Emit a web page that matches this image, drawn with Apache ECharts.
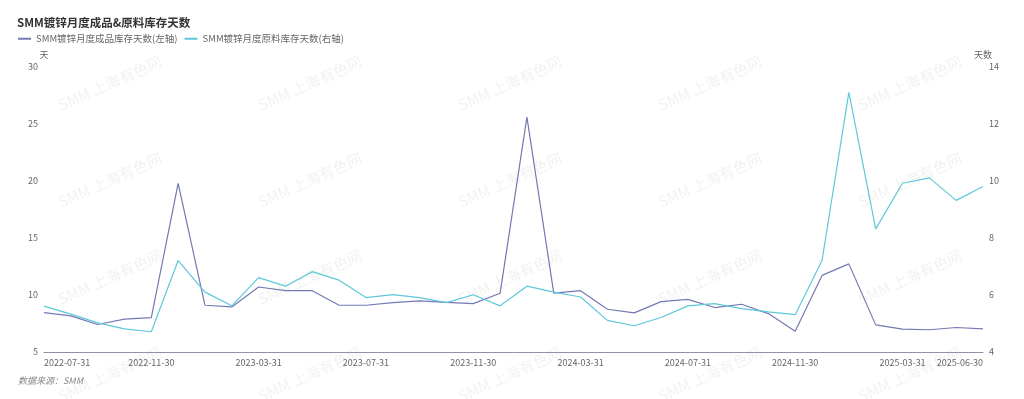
<!DOCTYPE html>
<html>
<head>
<meta charset="utf-8">
<script src="https://cdn.jsdelivr.net/npm/echarts@6/dist/echarts.min.js"></script>
<style>
  html, body { margin: 0; padding: 0; background: #fff; }
  #main { width: 1024px; height: 399px; }
</style>
</head>
<body>
<div id="main"></div>
<script>
var months = [
  '2022-07-31','2022-08-31','2022-09-30','2022-10-31','2022-11-30','2022-12-31',
  '2023-01-31','2023-02-28','2023-03-31','2023-04-30','2023-05-31','2023-06-30',
  '2023-07-31','2023-08-31','2023-09-30','2023-10-31','2023-11-30','2023-12-31',
  '2024-01-31','2024-02-29','2024-03-31','2024-04-30','2024-05-31','2024-06-30',
  '2024-07-31','2024-08-31','2024-09-30','2024-10-31','2024-11-30','2024-12-31',
  '2025-01-31','2025-02-28','2025-03-31','2025-04-30','2025-05-31','2025-06-30'
];
// 成品库存天数 (左轴)
var finishedDays = [
  8.46, 8.17, 7.41, 7.88, 8.02, 19.8, 9.1, 8.95, 10.7, 10.38, 10.38, 9.1,
  9.1, 9.33, 9.48, 9.36, 9.24, 10.15, 25.6, 10.17, 10.38, 8.75, 8.43, 9.42,
  9.62, 8.9, 9.19, 8.37, 6.83, 11.72, 12.73, 7.38, 7.0, 6.95, 7.15, 7.03
];
// 原料库存天数 (右轴)
var rawDays = [
  5.61, 5.33, 5.02, 4.81, 4.71, 7.21, 6.10, 5.62, 6.61, 6.31, 6.82, 6.52,
  5.91, 6.01, 5.91, 5.73, 6.01, 5.62, 6.31, 6.10, 5.93, 5.11, 4.92, 5.21,
  5.62, 5.70, 5.52, 5.41, 5.31, 7.21, 13.11, 8.32, 9.92, 10.11, 9.32, 9.81
];
var seriesNames = ['SMM镀锌月度成品库存天数(左轴)', 'SMM镀锌月度原料库存天数(右轴)'];

var font = '"Noto Sans CJK SC", "Noto Sans", sans-serif';

// watermark
var marks = [];
for (var r = 0; r < 4; r++) {
  for (var c = 0; c < 5; c++) {
    marks.push({
      type: 'text',
      x: 110 + c * 200,
      y: 83 + r * 97,
      rotation: Math.PI / 180 * 24,
      style: {
        text: 'SMM 上海有色网',
        fill: 'rgba(0,0,0,0.06)',
        font: '15px ' + font,
        align: 'center',
        verticalAlign: 'middle'
      },
      silent: true,
      z: -1
    });
  }
}
marks.push({
  type: 'text', left: 18, top: 376,
  style: { text: '数据来源：SMM', fill: '#888', font: 'italic 9px ' + font }
});

var chart = echarts.init(document.getElementById('main'));
chart.setOption({
  animation: false,
  textStyle: { fontFamily: font },
  color: ['#7479b4', '#5ec8da'],
  title: {
    text: 'SMM镀锌月度成品&原料库存天数',
    left: 12, top: 12,
    textStyle: { fontSize: 11.5, fontWeight: 'bold', color: '#333' }
  },
  legend: {
    left: 13, top: 29,
    icon: 'rect',
    itemWidth: 13, itemHeight: 2, itemGap: 7,
    textStyle: { fontSize: 9.5, color: '#666' },
    data: seriesNames
  },
  grid: { left: 44, right: 41, top: 67, bottom: 47 },
  graphic: marks,
  xAxis: {
    type: 'category',
    boundaryGap: false,
    data: months,
    axisLine: { lineStyle: { color: '#8c93aa' } },
    axisTick: { show: false },
    axisLabel: {
      color: '#666', fontSize: 9, margin: 6,
      alignMinLabel: 'left', alignMaxLabel: 'right',
      interval: function (i) { return i % 4 === 0 || i === months.length - 1; }
    }
  },
  yAxis: [
    {
      type: 'value', name: '天', min: 5, max: 30, interval: 5,
      nameTextStyle: { color: '#666', fontSize: 9 },
      nameGap: 8,
      axisLine: { show: false }, axisTick: { show: false },
      splitLine: { show: false },
      axisLabel: { color: '#666', fontSize: 9, margin: 6 }
    },
    {
      type: 'value', name: '天数', min: 4, max: 14, interval: 2,
      nameTextStyle: { color: '#666', fontSize: 9 },
      nameGap: 8,
      axisLine: { show: false }, axisTick: { show: false },
      splitLine: { show: false },
      axisLabel: { color: '#666', fontSize: 9, margin: 6 }
    }
  ],
  series: [
    {
      name: seriesNames[0], type: 'line', yAxisIndex: 0,
      data: finishedDays, symbol: 'none',
      lineStyle: { width: 1.2 }
    },
    {
      name: seriesNames[1], type: 'line', yAxisIndex: 1,
      data: rawDays, symbol: 'none',
      lineStyle: { width: 1.2 }
    }
  ]
});
</script>
</body>
</html>
